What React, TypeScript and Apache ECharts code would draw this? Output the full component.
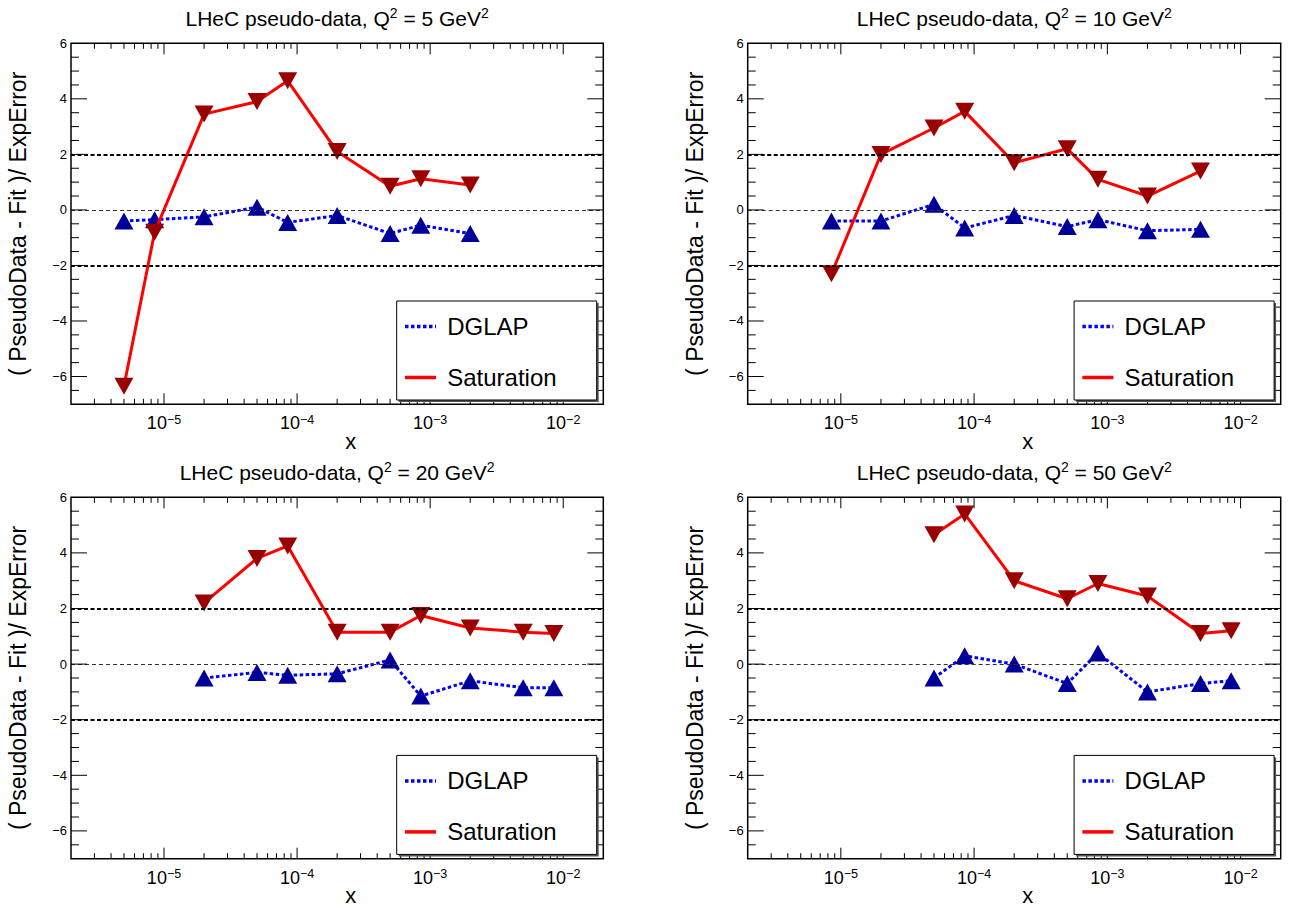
import { useEffect, useRef } from 'react';
import * as echarts from 'echarts';

// Pull (pseudo-data - fit) / exp. error vs Bjorken x, one set per Q^2 bin
const q2Values = [5, 10, 20, 50];

const xQ2_5 = [5e-6, 8.5e-6, 2e-5, 5e-5, 8.5e-5, 2e-4, 5e-4, 8.5e-4, 2e-3];
const dglapQ2_5 = [-0.4, -0.35, -0.25, 0.1, -0.45, -0.2, -0.85, -0.55, -0.85];
const satQ2_5 = [-6.35, -0.8, 3.45, 3.9, 4.65, 2.1, 0.85, 1.12, 0.9];

const xQ2_10 = [8.5e-6, 2e-5, 5e-5, 8.5e-5, 2e-4, 5e-4, 8.5e-4, 2e-3, 5e-3];
const dglapQ2_10 = [-0.4, -0.4, 0.2, -0.65, -0.2, -0.6, -0.35, -0.75, -0.7];
const satQ2_10 = [-2.3, 2.0, 2.95, 3.55, 1.7, 2.2, 1.1, 0.5, 1.4];

const xQ2_20 = [2e-5, 5e-5, 8.5e-5, 2e-4, 5e-4, 8.5e-4, 2e-3, 5e-3, 8.5e-3];
const dglapQ2_20 = [-0.5, -0.3, -0.4, -0.35, 0.15, -1.15, -0.6, -0.85, -0.85];
const satQ2_20 = [2.2, 3.8, 4.25, 1.15, 1.15, 1.75, 1.3, 1.15, 1.1];

const xQ2_50 = [5e-5, 8.5e-5, 2e-4, 5e-4, 8.5e-4, 2e-3, 5e-3, 8.5e-3];
const dglapQ2_50 = [-0.5, 0.3, 0.0, -0.7, 0.4, -1.0, -0.7, -0.6];
const satQ2_50 = [4.65, 5.4, 3.0, 2.35, 2.9, 2.45, 1.1, 1.2];

// Axis ranges and tick positions
const X_MIN = 2e-6;
const X_MAX = 2e-2;
const Y_MIN = -7;
const Y_MAX = 6;
const xDecadeExponents = [-6, -5, -4, -3, -2];
const xMinorMultipliers = [2, 3, 4, 5, 6, 7, 8, 9];
const yMajorStep = 2;
const yMinorStep = 0.5;
const referenceLevels = [-2, 0, 2];

const FONT = 'Liberation Sans, Arial, Helvetica, sans-serif';
const MINUS = '\u2212';

const panelData = [
  { q2: q2Values[0], x: xQ2_5, dglap: dglapQ2_5, sat: satQ2_5 },
  { q2: q2Values[1], x: xQ2_10, dglap: dglapQ2_10, sat: satQ2_10 },
  { q2: q2Values[2], x: xQ2_20, dglap: dglapQ2_20, sat: satQ2_20 },
  { q2: q2Values[3], x: xQ2_50, dglap: dglapQ2_50, sat: satQ2_50 },
];

// Frame rectangles of the 2x2 pads
const frames = [
  { left: 71, top: 43.3, width: 532.3, height: 361 },
  { left: 747.7, top: 43.3, width: 533, height: 361 },
  { left: 71, top: 497.3, width: 532.3, height: 361.4 },
  { left: 747.7, top: 497.3, width: 533, height: 361.4 },
];

// Tick marks drawn on all four sides of each frame: [x, y, length, orientation]
function buildTicks() {
  const out: number[][] = [];
  for (const e of xDecadeExponents) {
    for (const m of [1, ...xMinorMultipliers]) {
      const v = m * Math.pow(10, e);
      if (v <= X_MIN * 1.0001 || v >= X_MAX * 0.9999) continue;
      out.push([v, Y_MIN, m === 1 ? 11 : 5.5, 0]);
    }
  }
  const n = Math.round((Y_MAX - Y_MIN) / yMinorStep);
  for (let k = 1; k < n; k++) {
    const y = Y_MIN + k * yMinorStep;
    const major = Math.abs(y / yMajorStep - Math.round(y / yMajorStep)) < 1e-9;
    out.push([X_MIN, y, major ? 16 : 8, 1]);
  }
  return out;
}

function renderTick(_params: any, api: any) {
  const x = api.value(0);
  const y = api.value(1);
  const len = api.value(2);
  const dir = api.value(3);
  const style = { stroke: '#000', lineWidth: 1 };
  if (dir === 0) {
    const b = api.coord([x, Y_MIN]);
    const t = api.coord([x, Y_MAX]);
    return {
      type: 'group',
      children: [
        { type: 'line', shape: { x1: b[0], y1: b[1], x2: b[0], y2: b[1] - len }, style },
        { type: 'line', shape: { x1: t[0], y1: t[1], x2: t[0], y2: t[1] + len }, style },
      ],
    };
  }
  const l = api.coord([X_MIN, y]);
  const r = api.coord([X_MAX, y]);
  return {
    type: 'group',
    children: [
      { type: 'line', shape: { x1: l[0], y1: l[1], x2: l[0] + len, y2: l[1] }, style },
      { type: 'line', shape: { x1: r[0], y1: r[1], x2: r[0] - len, y2: r[1] }, style },
    ],
  };
}

function buildOption() {
  const ticks = buildTicks();
  const grid: any[] = [];
  const xAxis: any[] = [];
  const yAxis: any[] = [];
  const series: any[] = [];
  const graphic: any[] = [];

  panelData.forEach((p, i) => {
    const f = frames[i];
    grid.push({
      left: f.left,
      top: f.top,
      width: f.width,
      height: f.height,
      show: true,
      borderColor: '#000',
      borderWidth: 1.5,
      backgroundColor: 'transparent',
      containLabel: false,
      outerBoundsMode: 'none',
    });
    xAxis.push({
      type: 'log',
      logBase: 10,
      gridIndex: i,
      min: X_MIN,
      max: X_MAX,
      axisLine: { show: false },
      axisTick: { show: false },
      splitLine: { show: false },
      axisLabel: {
        margin: 9,
        hideOverlap: false,
        formatter: (v: number) => {
          const e = Math.log10(v);
          const r = Math.round(e);
          if (Math.abs(e - r) > 1e-6) return '';
          return `{b|10}{s|${r < 0 ? MINUS : ''}${Math.abs(r)}}`;
        },
        rich: {
          b: { fontSize: 18, lineHeight: 20, fontFamily: FONT, color: '#000' },
          s: { fontSize: 12.5, lineHeight: 12, fontFamily: FONT, color: '#000', verticalAlign: 'top' },
        },
      },
    });
    yAxis.push({
      type: 'value',
      gridIndex: i,
      min: Y_MIN,
      max: Y_MAX,
      splitNumber: 6,
      axisLine: { show: false },
      axisTick: { show: false },
      splitLine: { show: false },
      axisLabel: {
        margin: 4,
        fontSize: 13,
        fontFamily: FONT,
        color: '#000',
        formatter: (v: number) => {
          if (Math.abs(v / yMajorStep - Math.round(v / yMajorStep)) > 1e-9) return '';
          return v < 0 ? MINUS + Math.abs(v) : String(v);
        },
      },
    });

    series.push({
      type: 'line',
      name: 'DGLAP',
      xAxisIndex: i,
      yAxisIndex: i,
      data: p.x.map((x, k) => [x, p.dglap[k]]),
      symbol: 'triangle',
      symbolSize: [19, 17],
      itemStyle: { color: '#000099' },
      lineStyle: { color: '#0000ff', width: 3, type: [3.5, 2.5] },
      z: 3,
      markLine: {
        silent: true,
        symbol: 'none',
        label: { show: false },
        animation: false,
        data: referenceLevels.map((lv) => ({
          yAxis: lv,
          lineStyle:
            lv === 0
              ? { color: '#333', width: 1, type: [4, 3] }
              : { color: '#000', width: 2, type: [4, 2.5] },
        })),
      },
    });
    series.push({
      type: 'line',
      name: 'Saturation',
      xAxisIndex: i,
      yAxisIndex: i,
      data: p.x.map((x, k) => [x, p.sat[k]]),
      symbol: 'triangle',
      symbolRotate: 180,
      symbolSize: [19, 17],
      itemStyle: { color: '#990000' },
      lineStyle: { color: '#ff0000', width: 3, type: 'solid' },
      z: 4,
    });
    series.push({
      type: 'custom',
      name: 'frameTicks',
      xAxisIndex: i,
      yAxisIndex: i,
      silent: true,
      dimensions: ['x', 'y', 'len', 'dir'],
      encode: { x: 0, y: 1 },
      data: ticks,
      renderItem: renderTick,
      z: 6,
    });

    const cx = f.left + f.width / 2;
    const right = f.left + f.width;
    const bottom = f.top + f.height;

    // pad title
    graphic.push({
      type: 'text',
      x: cx,
      y: f.top - 25,
      style: {
        text: `{a|LHeC pseudo-data, Q}{s|2}{a| = ${p.q2} GeV}{s|2}`,
        align: 'center',
        verticalAlign: 'middle',
        rich: {
          a: { fontSize: 21, lineHeight: 24, fontFamily: FONT, fill: '#000' },
          s: { fontSize: 14, lineHeight: 14, fontFamily: FONT, fill: '#000', verticalAlign: 'top' },
        },
      },
    });
    // axis titles
    graphic.push({
      type: 'text',
      x: cx + 13.5,
      y: bottom + 37,
      style: { text: 'x', fontSize: 22, fontFamily: FONT, fill: '#000', align: 'center', verticalAlign: 'middle' },
    });
    graphic.push({
      type: 'text',
      x: f.left - 53.2,
      y: f.top + f.height / 2,
      rotation: Math.PI / 2,
      style: {
        text: '( PseudoData - Fit )/ ExpError',
        fontSize: 23,
        fontFamily: FONT,
        fill: '#000',
        align: 'center',
        verticalAlign: 'middle',
      },
    });

    // legend box
    const bx = right - 206.6;
    const by = bottom - 103.3;
    const bw = 200;
    const bh = 99;
    graphic.push({
      type: 'rect',
      shape: { x: bx + 2, y: by + 2, width: bw, height: bh },
      style: { fill: '#555' },
      z: 20,
    });
    graphic.push({
      type: 'rect',
      shape: { x: bx, y: by, width: bw, height: bh },
      style: { fill: '#fff', stroke: '#000', lineWidth: 1 },
      z: 21,
    });
    const rows = [
      { label: 'DGLAP', y: by + 25.5, stroke: '#0000ff', dash: [3.5, 2.5] },
      { label: 'Saturation', y: by + 76.5, stroke: '#ff0000', dash: null },
    ];
    rows.forEach((r) => {
      graphic.push({
        type: 'line',
        shape: { x1: bx + 8.3, y1: r.y, x2: bx + 39.3, y2: r.y },
        style: { stroke: r.stroke, lineWidth: 3.5, lineDash: r.dash || undefined },
        z: 22,
      });
      graphic.push({
        type: 'text',
        x: bx + 50.5,
        y: r.y,
        style: {
          text: r.label,
          fontSize: 24,
          fontFamily: FONT,
          fill: '#000',
          align: 'left',
          verticalAlign: 'middle',
        },
        z: 22,
      });
    });
  });

  return {
    animation: false,
    backgroundColor: '#fff',
    grid,
    xAxis,
    yAxis,
    series,
    graphic,
  };
}

export default function App() {
  const ref = useRef<HTMLDivElement>(null);
  useEffect(() => {
    if (!ref.current) return;
    const chart = echarts.init(ref.current, null, { renderer: 'svg' });
    chart.setOption(buildOption() as any);
    return () => chart.dispose();
  }, []);
  return (
    <div
      ref={ref}
      style={{ position: 'absolute', left: 0, top: 0, width: 1290, height: 908, background: '#fff' }}
    />
  );
}
